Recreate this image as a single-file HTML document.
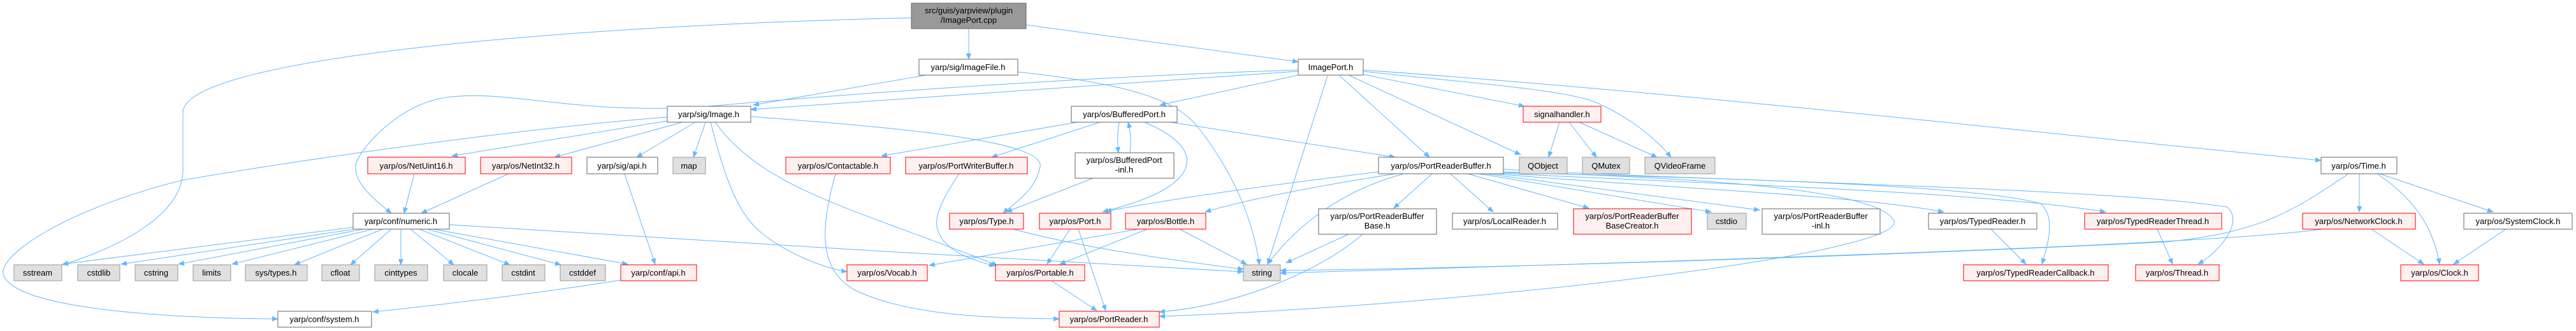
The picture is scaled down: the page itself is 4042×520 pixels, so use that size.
<!DOCTYPE html>
<html><head><meta charset="utf-8"><style>
html,body{margin:0;padding:0;background:#fff;}
svg{display:block}
text{font-family:"Liberation Sans",sans-serif;font-size:13px;fill:#000;text-anchor:middle}
.n{fill:#fff;stroke:#666;stroke-width:1}
.r{fill:#fff0f0;stroke:#f00;stroke-width:1}
.g{fill:#e0e0e0;stroke:#999;stroke-width:1}
.e{fill:none;stroke:#63b8ff;stroke-width:1;marker-end:url(#a)}
</style></head><body>
<svg width="4042" height="520" viewBox="0 0 4042 520" xmlns="http://www.w3.org/2000/svg">
<defs><marker id="a" markerWidth="10" markerHeight="8" refX="9" refY="4" orient="auto" markerUnits="userSpaceOnUse"><path d="M0,0 L10,4 L0,8 z" fill="#63b8ff"/></marker></defs>
<g>
<path class="e" d="M1520,45 L1520,93"/>
<path class="e" d="M1610,39 L2037,97"/>
<path class="e" d="M1430,28 C900,40 287,90 287,177 L287,267 C287,350 150,400 98,416"/>
<path class="e" d="M2037,110 C1700,120 1300,150 1100,168 C900,180 800,140 700,153 C620,165 560,240 558,260 C556,290 590,315 614,335"/>
<path class="e" d="M2037,112 L1178,172"/>
<path class="e" d="M1453,118 L1182,165"/>
<path class="e" d="M1047,184 C900,195 600,230 286,283 C100,330 0,400 5,430 C20,490 300,500 436,501"/>
<path class="e" d="M1597,113 C1750,130 1840,150 1880,200 C1950,290 1970,370 1976,416"/>
<path class="e" d="M1047,190 L709,245"/>
<path class="e" d="M1071,192 L870,247"/>
<path class="e" d="M1091,192 L999,247"/>
<path class="e" d="M1107,192 L1088,247"/>
<path class="e" d="M1115,192 C1140,290 1160,340 1200,370 C1240,400 1290,420 1329,427"/>
<path class="e" d="M1122,192 C1200,300 1350,330 1565,417"/>
<path class="e" d="M1178,183 C1400,200 1640,220 1632,262 C1625,300 1590,320 1574,335"/>
<path class="e" d="M798,273 L661,335"/>
<path class="e" d="M650,273 L634,335"/>
<path class="e" d="M980,273 L1028,415"/>
<path class="e" d="M1311,273 C1290,350 1280,420 1340,455 C1420,495 1550,500 1662,501"/>
<path class="e" d="M554,357 L98,415"/>
<path class="e" d="M556,360 L190,415"/>
<path class="e" d="M570,360 L280,415"/>
<path class="e" d="M585,360 L364,415"/>
<path class="e" d="M600,360 L462,416"/>
<path class="e" d="M614,360 L550,416"/>
<path class="e" d="M629,360 L629,416"/>
<path class="e" d="M644,360 L712,416"/>
<path class="e" d="M658,360 L800,416"/>
<path class="e" d="M670,360 L880,416"/>
<path class="e" d="M680,360 L985,415"/>
<path class="e" d="M705,353 C1000,370 1600,410 1951,427"/>
<path class="e" d="M974,440 C850,460 700,478 585,490"/>
<path class="e" d="M2037,118 L1820,165"/>
<path class="e" d="M2083,119 L1989,415"/>
<path class="e" d="M2102,119 L2243,247"/>
<path class="e" d="M2116,118 L2386,243"/>
<path class="e" d="M2139,117 L2392,167"/>
<path class="e" d="M2139,112 C2300,130 2450,140 2502,160 C2560,185 2600,220 2622,247"/>
<path class="e" d="M2139,110 C2700,150 3200,210 3642,252"/>
<path class="e" d="M2447,192 L2430,247"/>
<path class="e" d="M2462,192 L2505,247"/>
<path class="e" d="M2478,192 L2600,247"/>
<path class="e" d="M1690,192 L1383,245"/>
<path class="e" d="M1726,192 L1556,247"/>
<path class="e" d="M1756,192 C1753,210 1753,225 1755,240"/>
<path class="e" d="M1773,240 C1775,225 1775,210 1770,192"/>
<path class="e" d="M1796,192 C1850,215 1870,240 1860,265 C1845,300 1780,320 1730,333"/>
<path class="e" d="M1837,192 L2189,247"/>
<path class="e" d="M1715,280 L1579,333"/>
<path class="e" d="M1505,273 C1480,310 1465,340 1471,360 C1480,395 1530,410 1561,418"/>
<path class="e" d="M1590,360 C1700,390 1850,410 1951,423"/>
<path class="e" d="M1679,360 L1643,415"/>
<path class="e" d="M1692,360 L1735,488"/>
<path class="e" d="M1786,360 L1458,417"/>
<path class="e" d="M1800,360 L1663,415"/>
<path class="e" d="M1851,360 L1956,415"/>
<path class="e" d="M1650,441 L1721,488"/>
<path class="e" d="M2163,270 C2000,290 1850,310 1735,332"/>
<path class="e" d="M2189,273 C2050,295 1950,315 1891,333"/>
<path class="e" d="M2203,273 C2100,300 2030,360 1989,415"/>
<path class="e" d="M2116,368 L2018,413"/>
<path class="e" d="M2138,368 C2080,420 1950,480 1819,490"/>
<path class="e" d="M3685,273 C3600,330 3550,365 3400,380 C3000,400 2400,420 2009,425"/>
<path class="e" d="M3644,360 C3500,380 3000,400 2009,429"/>
<path class="e" d="M2359,270 C2700,280 2950,300 2972,347 C2990,400 2300,480 1819,497"/>
<path class="e" d="M2247,273 L2187,327"/>
<path class="e" d="M2276,273 L2343,333"/>
<path class="e" d="M2303,273 L2493,327"/>
<path class="e" d="M2321,273 L2685,333"/>
<path class="e" d="M2332,273 L2761,330"/>
<path class="e" d="M2345,273 C2600,295 2900,305 3050,333"/>
<path class="e" d="M2350,272 C2700,290 3100,300 3304,333"/>
<path class="e" d="M2355,271 C2700,280 3100,290 3202,320 C3225,340 3215,380 3204,415"/>
<path class="e" d="M2359,266 C2700,285 3300,295 3494,325 C3520,345 3490,390 3449,415"/>
<path class="e" d="M3124,360 L3179,415"/>
<path class="e" d="M3385,360 L3409,415"/>
<path class="e" d="M3702,273 L3702,333"/>
<path class="e" d="M3730,273 C3800,320 3820,370 3828,415"/>
<path class="e" d="M3734,273 L3912,333"/>
<path class="e" d="M3721,360 L3803,415"/>
<path class="e" d="M3932,360 L3850,415"/>
</g>
<g>
<rect x="1430" y="5" width="180" height="40" fill="#999" stroke="#666"/><text x="1520" y="21">src/guis/yarpview/plugin</text><text x="1520" y="36">/ImagePort.cpp</text>
<rect class="n" x="1442" y="93" width="155" height="25"/><text x="1519" y="110">yarp/sig/ImageFile.h</text>
<rect class="n" x="2037" y="93" width="102" height="25"/><text x="2088" y="110">ImagePort.h</text>
<rect class="n" x="1047" y="167" width="131" height="25"/><text x="1112" y="184">yarp/sig/Image.h</text>
<rect class="n" x="1681" y="167" width="166" height="25"/><text x="1764" y="184">yarp/os/BufferedPort.h</text>
<rect class="r" x="2390" y="167" width="122" height="25"/><text x="2451" y="184">signalhandler.h</text>
<rect class="r" x="577" y="247" width="153" height="26"/><text x="653" y="265">yarp/os/NetUint16.h</text>
<rect class="r" x="754" y="247" width="143" height="26"/><text x="825" y="265">yarp/os/NetInt32.h</text>
<rect class="n" x="921" y="247" width="111" height="26"/><text x="976" y="265">yarp/sig/api.h</text>
<rect class="g" x="1056" y="247" width="51" height="26"/><text x="1081" y="265">map</text>
<rect class="r" x="1233" y="247" width="164" height="26"/><text x="1315" y="265">yarp/os/Contactable.h</text>
<rect class="r" x="1421" y="247" width="191" height="26"/><text x="1516" y="265">yarp/os/PortWriterBuffer.h</text>
<rect class="n" x="1687" y="240" width="155" height="40"/><text x="1764" y="256">yarp/os/BufferedPort</text><text x="1764" y="271">-inl.h</text>
<rect class="n" x="2163" y="247" width="196" height="26"/><text x="2261" y="265">yarp/os/PortReaderBuffer.h</text>
<rect class="g" x="2384" y="247" width="75" height="26"/><text x="2421" y="265">QObject</text>
<rect class="g" x="2483" y="247" width="74" height="26"/><text x="2520" y="265">QMutex</text>
<rect class="g" x="2581" y="247" width="110" height="26"/><text x="2636" y="265">QVideoFrame</text>
<rect class="n" x="3642" y="247" width="119" height="26"/><text x="3701" y="265">yarp/os/Time.h</text>
<rect class="n" x="554" y="335" width="151" height="25"/><text x="629" y="352">yarp/conf/numeric.h</text>
<rect class="r" x="1490" y="335" width="116" height="25"/><text x="1548" y="352">yarp/os/Type.h</text>
<rect class="r" x="1631" y="335" width="112" height="25"/><text x="1687" y="352">yarp/os/Port.h</text>
<rect class="r" x="1766" y="335" width="126" height="25"/><text x="1829" y="352">yarp/os/Bottle.h</text>
<rect class="n" x="2069" y="328" width="185" height="40"/><text x="2161" y="344">yarp/os/PortReaderBuffer</text><text x="2161" y="359">Base.h</text>
<rect class="n" x="2279" y="335" width="165" height="25"/><text x="2361" y="352">yarp/os/LocalReader.h</text>
<rect class="r" x="2469" y="328" width="185" height="40"/><text x="2561" y="344">yarp/os/PortReaderBuffer</text><text x="2561" y="359">BaseCreator.h</text>
<rect class="g" x="2679" y="335" width="61" height="25"/><text x="2709" y="352">cstdio</text>
<rect class="n" x="2765" y="328" width="185" height="40"/><text x="2857" y="344">yarp/os/PortReaderBuffer</text><text x="2857" y="359">-inl.h</text>
<rect class="n" x="3026" y="335" width="170" height="25"/><text x="3111" y="352">yarp/os/TypedReader.h</text>
<rect class="r" x="3271" y="335" width="215" height="25"/><text x="3378" y="352">yarp/os/TypedReaderThread.h</text>
<rect class="r" x="3613" y="335" width="177" height="25"/><text x="3701" y="352">yarp/os/NetworkClock.h</text>
<rect class="n" x="3866" y="335" width="170" height="25"/><text x="3951" y="352">yarp/os/SystemClock.h</text>
<rect class="g" x="22" y="416" width="75" height="25"/><text x="59" y="433">sstream</text>
<rect class="g" x="122" y="416" width="66" height="25"/><text x="155" y="433">cstdlib</text>
<rect class="g" x="212" y="416" width="67" height="25"/><text x="245" y="433">cstring</text>
<rect class="g" x="303" y="416" width="59" height="25"/><text x="332" y="433">limits</text>
<rect class="g" x="385" y="416" width="97" height="25"/><text x="433" y="433">sys/types.h</text>
<rect class="g" x="505" y="416" width="59" height="25"/><text x="534" y="433">cfloat</text>
<rect class="g" x="588" y="416" width="83" height="25"/><text x="629" y="433">cinttypes</text>
<rect class="g" x="696" y="416" width="68" height="25"/><text x="730" y="433">clocale</text>
<rect class="g" x="788" y="416" width="67" height="25"/><text x="821" y="433">cstdint</text>
<rect class="g" x="879" y="416" width="71" height="25"/><text x="914" y="433">cstddef</text>
<rect class="r" x="974" y="416" width="119" height="25"/><text x="1033" y="433">yarp/conf/api.h</text>
<rect class="r" x="1329" y="416" width="126" height="25"/><text x="1392" y="433">yarp/os/Vocab.h</text>
<rect class="r" x="1562" y="416" width="140" height="25"/><text x="1632" y="433">yarp/os/Portable.h</text>
<rect class="g" x="1951" y="416" width="58" height="25"/><text x="1980" y="433">string</text>
<rect class="r" x="3081" y="416" width="227" height="25"/><text x="3194" y="433">yarp/os/TypedReaderCallback.h</text>
<rect class="r" x="3351" y="416" width="131" height="25"/><text x="3416" y="433">yarp/os/Thread.h</text>
<rect class="r" x="3767" y="416" width="122" height="25"/><text x="3828" y="433">yarp/os/Clock.h</text>
<rect class="n" x="436" y="489" width="147" height="25"/><text x="509" y="506">yarp/conf/system.h</text>
<rect class="r" x="1662" y="489" width="157" height="25"/><text x="1740" y="506">yarp/os/PortReader.h</text>
</g>
</svg>
</body></html>
